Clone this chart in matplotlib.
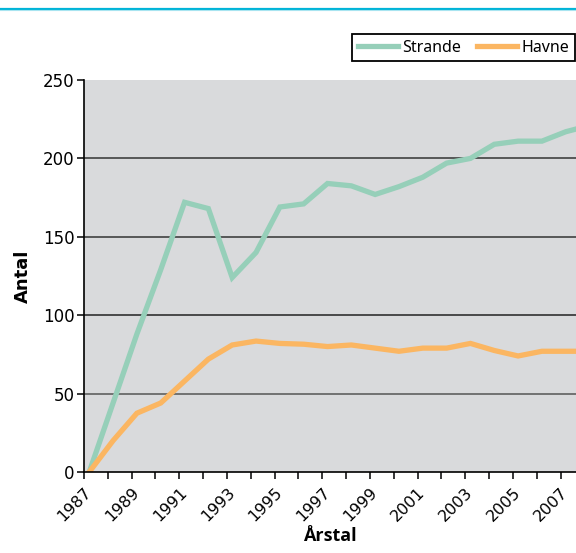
import numpy as np
import matplotlib.pyplot as plt
from matplotlib.lines import Line2D

years = np.arange(1987, 2009)
strande = [0, 44, 88, 129, 172, 168, 124, 140, 169, 171, 184, 182.5, 177, 182,
           188, 197, 200, 209, 211, 211, 217, 221]
havne = [0, 20, 37.5, 44, 58, 72, 81, 83.5, 82, 81.5, 80, 81, 79, 77,
         79, 79, 82, 77.5, 74, 77, 77, 77]
tick_labels = [str(y) if (y - 1987) % 2 == 0 else "" for y in range(1987, 2008)]

green = "#96cfb9"
orange = "#fbb662"

fig = plt.figure(figsize=(5.76, 5.53), dpi=100)
ax = fig.add_axes([84/576, 1 - 472/553, 1 - 84/576, (472 - 80)/553])
ax.set_facecolor("#d9dadc")

# points sit a bit right of the year ticks in the original
x = years + 0.22
ax.plot(x, strande, color=green, lw=3.8, label="Strande", solid_joinstyle="miter")
ax.plot(x, havne, color=orange, lw=3.8, label="Havne", solid_joinstyle="miter")

ax.set_xlim(1987, 2007.65)
ax.set_ylim(0, 250)
ax.set_yticks([0, 50, 100, 150, 200, 250])
ax.set_xticks(range(1987, 2008))
ax.set_xticklabels(tick_labels, rotation=45, ha="right", rotation_mode="anchor")
for yv, c in [(50, "#555555"), (100, "#222222"), (150, "#333333"), (200, "#333333")]:
    ax.axhline(yv, color=c, lw=1.1, zorder=1)

for s in ["top", "right"]:
    ax.spines[s].set_visible(False)
ax.spines["left"].set_linewidth(1.2)
ax.spines["bottom"].set_linewidth(1.2)
ax.tick_params(axis="both", labelsize=12, length=5, width=1.1, direction="out", pad=2)
ax.tick_params(axis="x", pad=4, labelsize=11.5)

ax.set_ylabel("Antal", fontsize=13, fontweight="bold", labelpad=8)
ax.set_xlabel("Årstal", fontsize=13, fontweight="bold", family="Open Sans", labelpad=2)

leg = fig.legend(loc="upper left", bbox_to_anchor=(352/576, 1 - 34/553), ncol=2,
                 frameon=True, fancybox=False, edgecolor="black", framealpha=1,
                 prop={"family": "Noto Sans", "size": 11.5}, handlelength=2.5,
                 handletextpad=0.3, columnspacing=1.0, borderpad=0.35,
                 borderaxespad=0)
leg.get_frame().set_linewidth(1.3)

# cyan rule across the top
fig.add_artist(Line2D([0, 1], [1 - 8.5/553, 1 - 8.5/553], color="#00b4d8", lw=1.6))
fig.add_artist(Line2D([0, 1], [1 - 10/553, 1 - 10/553], color="#a8e4f0", lw=0.8))

fig.savefig("out.png", dpi=100)
